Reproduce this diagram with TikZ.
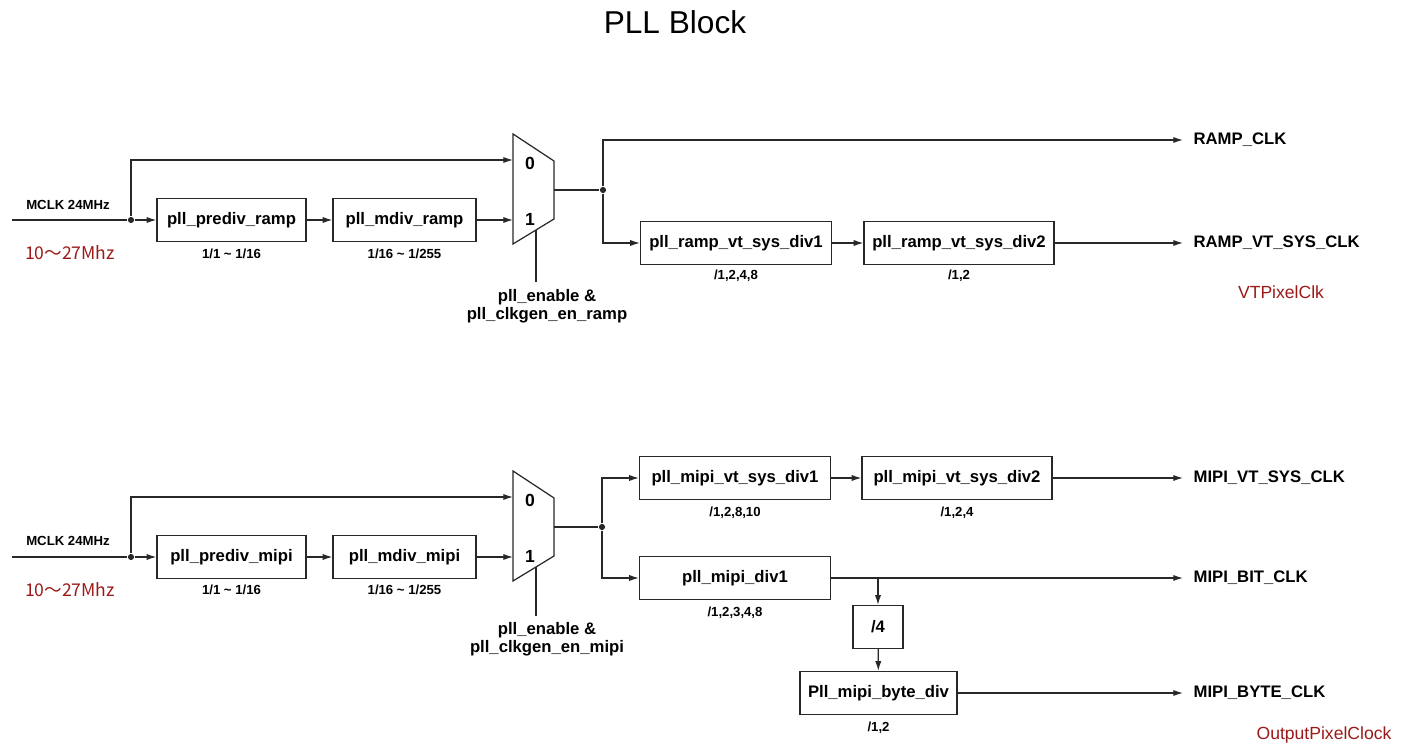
\documentclass[tikz,border=0pt]{standalone}
\usepackage{fontspec}
\setmainfont{Liberation Sans}
\newfontfamily\cjk{Noto Sans CJK SC}
\usetikzlibrary{arrows.meta}
\definecolor{noteRed}{RGB}{155,25,25}
\definecolor{wire}{RGB}{40,40,40}

\begin{document}
\begin{tikzpicture}[x=0.02cm, y=-0.02cm,
				line width=0.7pt, draw=wire,
				>={Latex[length=5.5pt,width=3.5pt]},
				blk/.style={draw=wire, minimum height=0.86cm, inner sep=0pt, font=\fontsize{9.5}{11}\selectfont\bfseries},
				ratio/.style={font=\fontsize{7.5}{9}\selectfont\bfseries},
				sig/.style={anchor=west, inner xsep=0.2cm, font=\fontsize{9.5}{11}\selectfont\bfseries},
				sel/.style={align=center, font=\fontsize{9.5}{10.2}\selectfont\bfseries},
				pin/.style={font=\fontsize{10}{12}\selectfont\bfseries},
				note/.style={text=noteRed, font=\fontsize{10}{12}\selectfont},
				dot/.style={circle, fill=wire, inner sep=0pt, minimum size=3.5pt}]
	\useasboundingbox (0,0) rectangle (1418,749);
	\node[font=\fontsize{18}{20}\selectfont] (title) at (675,22) {PLL Block};

	% ramp path
	\coordinate (inR) at (12,220);
	\node[dot] (jR) at (131,220) {};
	\node[ratio] (mclkR) at (68,205) {MCLK 24MHz};
	\node[note] (rangeR) at (70,253) {\cjk 10～27Mhz};
	\node[blk, minimum width=2.98cm] (prediv_ramp) at (231.5,220) {pll\_prediv\_ramp};
	\node[ratio] (prediv_ramp_r) at (231.5,254) {1/1 \textasciitilde{} 1/16};
	\node[blk, minimum width=2.86cm] (mdiv_ramp) at (404.5,220) {pll\_mdiv\_ramp};
	\node[ratio] (mdiv_ramp_r) at (404.5,254) {1/16 \textasciitilde{} 1/255};
	\draw (513,134) -- (554,161) -- (554,219) -- (513,244) -- cycle;
	\coordinate (muxR0) at (513,160);
	\coordinate (muxR1) at (513,220);
	\coordinate (muxRo) at (554,190);
	\coordinate (muxRs) at (536,230);
	\coordinate (selR) at (536,282);
	\node[pin] (pinR0) at (530,163) {0};
	\node[pin] (pinR1) at (530,219) {1};
	\node[sel] (enR) at (547,306) {pll\_enable \&\\pll\_clkgen\_en\_ramp};
	\node[dot] (oR) at (603,190) {};
	\node[blk, minimum width=3.82cm] (rvt1) at (736,243) {pll\_ramp\_vt\_sys\_div1};
	\node[ratio] (rvt1_r) at (736,276) {/1,2,4,8};
	\node[blk, minimum width=3.8cm] (rvt2) at (959,243) {pll\_ramp\_vt\_sys\_div2};
	\node[ratio] (rvt2_r) at (959,276) {/1,2};
	\node[sig] (rampclk) at (1183,140) {RAMP\_CLK};
	\node[sig] (rampvt) at (1183,243) {RAMP\_VT\_SYS\_CLK};
	\node[note] (vtpix) at (1281,292) {VTPixelClk};

	\draw (inR) -- (jR);
	\draw[->] (jR) |- (muxR0);
	\draw[->] (jR) -- (prediv_ramp);
	\draw[->] (prediv_ramp) -- (mdiv_ramp);
	\draw[->] (mdiv_ramp) -- (muxR1);
	\draw (muxRs) -- (selR);
	\draw (muxRo) -- (oR);
	\draw[->] (oR) |- (rampclk);
	\draw[->] (oR) |- (rvt1);
	\draw[->] (rvt1) -- (rvt2);
	\draw[->] (rvt2) -- (rampvt);

	% mipi path
	\coordinate (inM) at (12,557);
	\node[dot] (jM) at (131,557) {};
	\node[ratio] (mclkM) at (68,541) {MCLK 24MHz};
	\node[note] (rangeM) at (70,590) {\cjk 10～27Mhz};
	\node[blk, minimum width=2.98cm] (prediv_mipi) at (231.5,557) {pll\_prediv\_mipi};
	\node[ratio] (prediv_mipi_r) at (231.5,590) {1/1 \textasciitilde{} 1/16};
	\node[blk, minimum width=2.86cm] (mdiv_mipi) at (404.5,557) {pll\_mdiv\_mipi};
	\node[ratio] (mdiv_mipi_r) at (404.5,590) {1/16 \textasciitilde{} 1/255};
	\draw (513,471) -- (554,498) -- (554,556) -- (513,581) -- cycle;
	\coordinate (muxM0) at (513,497);
	\coordinate (muxM1) at (513,557);
	\coordinate (muxMo) at (554,527);
	\coordinate (muxMs) at (536,567);
	\coordinate (selM) at (536,616);
	\node[pin] (pinM0) at (530,500) {0};
	\node[pin] (pinM1) at (530,556) {1};
	\node[sel] (enM) at (547,639) {pll\_enable \&\\pll\_clkgen\_en\_mipi};
	\node[dot] (oM) at (602,527) {};
	\node[blk, minimum width=3.82cm] (mvt1) at (735,478) {pll\_mipi\_vt\_sys\_div1};
	\node[ratio] (mvt1_r) at (735,513) {/1,2,8,10};
	\node[blk, minimum width=3.8cm] (mvt2) at (957,478) {pll\_mipi\_vt\_sys\_div2};
	\node[ratio] (mvt2_r) at (957,513) {/1,2,4};
	\node[blk, minimum width=3.82cm] (mdiv1) at (735,578) {pll\_mipi\_div1};
	\node[ratio] (mdiv1_r) at (735,613) {/1,2,3,4,8};
	\coordinate (tap) at (878,578);
	\node[blk, minimum width=1cm] (div4) at (878,627) {/4};
	\node[blk, minimum width=3.14cm] (bytediv) at (878.5,693) {Pll\_mipi\_byte\_div};
	\node[ratio] (bytediv_r) at (878.5,728) {/1,2};
	\node[sig] (mipivt) at (1183,478) {MIPI\_VT\_SYS\_CLK};
	\node[sig] (mipibit) at (1183,578) {MIPI\_BIT\_CLK};
	\node[sig] (mipibyte) at (1183,693) {MIPI\_BYTE\_CLK};
	\node[note] (outpix) at (1324,735) {OutputPixelClock};

	\draw (inM) -- (jM);
	\draw[->] (jM) |- (muxM0);
	\draw[->] (jM) -- (prediv_mipi);
	\draw[->] (prediv_mipi) -- (mdiv_mipi);
	\draw[->] (mdiv_mipi) -- (muxM1);
	\draw (muxMs) -- (selM);
	\draw (muxMo) -- (oM);
	\draw[->] (oM) |- (mvt1);
	\draw[->] (oM) |- (mdiv1);
	\draw[->] (mvt1) -- (mvt2);
	\draw[->] (mvt2) -- (mipivt);
	\draw[->] (mdiv1) -- (mipibit);
	\draw[->] (tap) -- (div4);
	\draw[->] (div4) -- (bytediv);
	\draw[->] (bytediv) -- (mipibyte);
\end{tikzpicture}
\end{document}
